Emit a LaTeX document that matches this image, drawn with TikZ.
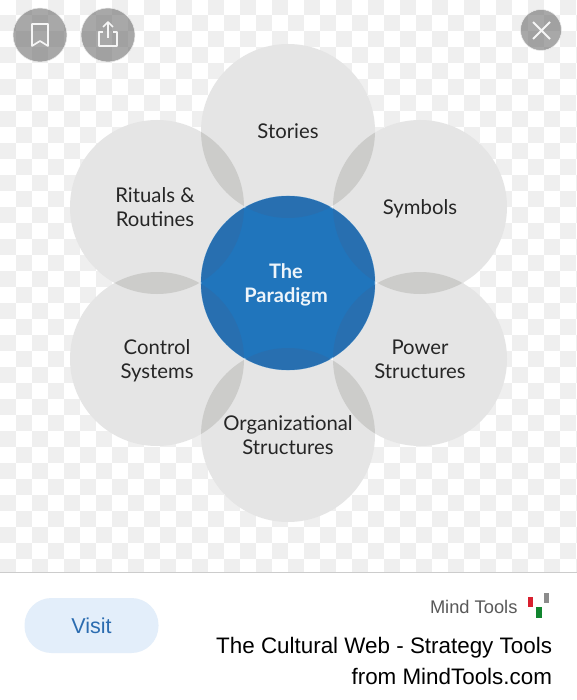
\documentclass[tikz,border=0pt]{standalone}
\usepackage{fontspec}
\setmainfont{Lato}
\newfontfamily\uifont{Liberation Sans}
\usepackage{xcolor}
\usetikzlibrary{positioning}
\definecolor{PetalGray}{HTML}{E5E5E5}
\definecolor{LensGray}{HTML}{CCCCCA}
\definecolor{CoreBlue}{HTML}{2075BC}
\definecolor{LensBlue}{HTML}{286FB0}
\definecolor{CheckGray}{HTML}{EFEFEF}
\definecolor{VisitBlue}{HTML}{E3EEFA}
\definecolor{VisitText}{HTML}{2B6CB0}
\definecolor{LogoRed}{HTML}{D8202F}
\definecolor{LogoGreen}{HTML}{11852F}

\begin{document}
\begin{tikzpicture}[x=1pt,y=-1pt,
  every node/.style={font=\fontsize{20.3}{24}\selectfont, text=black!85},
  PT/.style={circle, fill=PetalGray, minimum size=174pt, inner sep=0pt},
  LB/.style={inner sep=0pt, align=center},
  CR/.style={circle, fill=CoreBlue, draw=CoreBlue!45, line width=0.6pt,
             minimum size=174pt, inner sep=0pt},
  BT/.style={circle, fill=black!57, fill opacity=0.6, draw=white!85!gray, line width=0.5pt,
             minimum size=54pt, inner sep=0pt},
  ICN/.style={draw=white!92!gray, line width=1.7pt, line join=round},
  UI/.style={anchor=east, text=black, font=\uifont\fontsize{22.4}{24}\selectfont},
]

  \useasboundingbox (0,0) rectangle (577,700);
  \fill[white] (0,0) rectangle (577,700);

  % Checker backdrop
  \foreach \row in {0,...,35}
    \foreach \col in {0,...,36}{
      \pgfmathparse{int(mod(\row+\col,2))}
      \ifnum\pgfmathresult=1
        \fill[CheckGray] ({\col*16},{\row*16-1}) rectangle ({(\col+1)*16},{(\row+1)*16-1});
      \fi
    }

  % Petals
  \node[PT] (stories) at (288,131) {};
  \node[PT] (symbols) at (420,207) {};
  \node[PT] (power)   at (420,359) {};
  \node[PT] (orgs)    at (288,435) {};
  \node[PT] (control) at (157,359) {};
  \node[PT] (rituals) at (157,207) {};

  % Overlaps between neighbours
  \foreach \pa/\pb in {stories/symbols,symbols/power,power/orgs,orgs/control,control/rituals,rituals/stories}{
    \begin{scope}
      \clip (\pa.center) circle (87);
      \fill[LensGray] (\pb.center) circle (87);
    \end{scope}
  }

  % Labels
  \node[LB] (lbstories) at (288,131) {Stories};
  \node[LB] (lbsymbols) at (420,209) {Symbols};
  \node[LB] (lbpower)   at (420,359) {Power\\Structures};
  \node[LB] (lborgs)    at (288,435) {Organizational\\Structures};
  \node[LB] (lbcontrol) at (157,361) {Control\\Systems};
  \node[LB] (lbrituals) at (155,207) {Rituals \&\\Routines};

  % Centre
  \node[CR] (core) at (288,283) {};
  \foreach \pa in {stories,symbols,power,orgs,control,rituals}{
    \begin{scope}
      \clip (core.center) circle (87);
      \fill[LensBlue] (\pa.center) circle (87);
    \end{scope}
  }
  \node[LB, font=\fontsize{20}{24}\selectfont\bfseries, text=white!92!CoreBlue] (coretxt)
    at (286,285) {The\\Paradigm};

  % Top buttons
  \node[BT] (save)  at (40,35)  {};
  \node[BT] (share) at (108,35) {};
  \node[BT, minimum size=41pt] (close) at (541,30) {};

  \draw[ICN] (32,24) -- (48,24) -- (48,46) -- (40,41) -- (32,46) -- cycle;
  \draw[ICN] (103,32) -- (99,32) -- (99,46) -- (117,46) -- (117,32) -- (113,32);
  \draw[ICN] (108,38) -- (108,22) (103,27) -- (108,22) -- (113,27);
  \draw[ICN, line width=2pt] (533,22) -- (550,39) (550,22) -- (533,39);

  % Bottom bar
  \fill[white] (0,572) rectangle (577,700);
  \draw[black!20, line width=0.7pt] (0,572) -- (577,572);
  \node[fill=VisitBlue, rounded corners=27pt, minimum width=134pt, minimum height=55pt,
        text=VisitText, font=\uifont\fontsize{21.5}{24}\selectfont] (visit) at (91.5,625.5) {Visit};
  \node[UI, text=black!65, font=\uifont\fontsize{18.3}{20}\selectfont] (source) at (521,607) {Mind Tools};
  \node[UI] (title1) at (555.5,648) {The Cultural Web - Strategy Tools};
  \node[UI] (title2) at (555.5,676) {from MindTools.com};

  % Logo
  \fill[LogoRed]   (528,597) rectangle (533,607);
  \fill[black!45]  (543.5,593) rectangle (549,603);
  \fill[LogoGreen] (536,607) rectangle (542,618);

\end{tikzpicture}
\end{document}
